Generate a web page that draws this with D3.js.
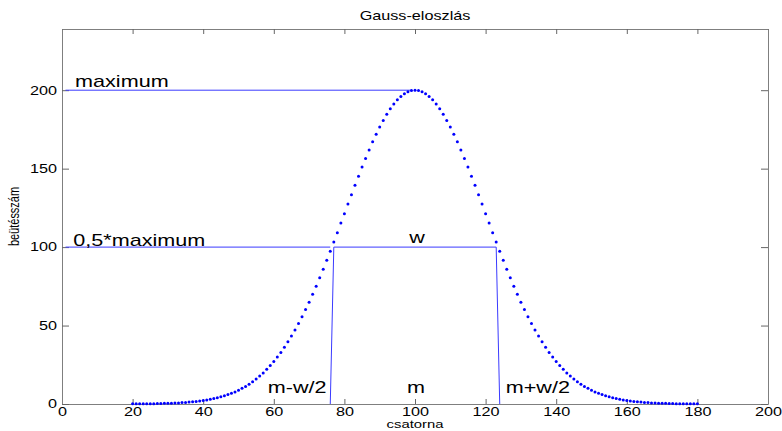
<!DOCTYPE html>
<html>
<head>
<meta charset="utf-8">
<script src="https://cdn.jsdelivr.net/npm/d3@7"></script>
<style>
  html, body { margin: 0; padding: 0; background: #fff; }
  svg { display: block; font-family: "Liberation Sans", Arial, sans-serif; }
</style>
</head>
<body>
<svg id="chart" width="782" height="431"></svg>
<script>
// Channel counts of the Gaussian peak, channels 20..180
const firstChannel = 20;
const counts = [
  0.1, 0.1, 0.1, 0.1, 0.1, 0.2, 0.2, 0.3, 0.3, 0.4,
  0.4, 0.5, 0.6, 0.7, 0.9, 1.0, 1.2, 1.4, 1.6, 1.9,
  2.2, 2.6, 3.0, 3.5, 4.0, 4.6, 5.2, 6.0, 6.8, 7.7,
  8.8, 10.0, 11.2, 12.6, 14.2, 15.9, 17.8, 19.8, 22.1, 24.5,
  27.1, 29.9, 32.9, 36.1, 39.6, 43.3, 47.2, 51.3, 55.6, 60.2,
  64.9, 69.9, 75.1, 80.4, 85.9, 91.6, 97.4, 103.2, 109.2, 115.3,
  121.3, 127.4, 133.4, 139.4, 145.2, 151.0, 156.5, 161.9, 167.1, 171.9,
  176.5, 180.7, 184.6, 188.1, 191.2, 193.9, 196.0, 197.8, 199.0, 199.8,
  200.0,
  199.8, 199.0, 197.8, 196.0, 193.9, 191.2, 188.1, 184.6, 180.7, 176.5,
  171.9, 167.1, 161.9, 156.5, 151.0, 145.2, 139.4, 133.4, 127.4, 121.3,
  115.3, 109.2, 103.2, 97.4, 91.6, 85.9, 80.4, 75.1, 69.9, 64.9,
  60.2, 55.6, 51.3, 47.2, 43.3, 39.6, 36.1, 32.9, 29.9, 27.1,
  24.5, 22.1, 19.8, 17.8, 15.9, 14.2, 12.6, 11.2, 10.0, 8.8,
  7.7, 6.8, 6.0, 5.2, 4.6, 4.0, 3.5, 3.0, 2.6, 2.2,
  1.9, 1.6, 1.4, 1.2, 1.0, 0.9, 0.7, 0.6, 0.5, 0.4,
  0.4, 0.3, 0.3, 0.2, 0.2, 0.1, 0.1, 0.1, 0.1, 0.1
];

// Guide lines: maximum level, half level, and the FWHM box
const maxLine = [[1, 200], [99, 200]];
const halfLine = [[1, 100], [76, 100]];
const widthBox = [[76, 0], [77, 100], [123, 100], [124, 0]];

// Axis ticks
const xTicks = [0, 20, 40, 60, 80, 100, 120, 140, 160, 180, 200];
const yTicks = [0, 50, 100, 150, 200];

// Annotations: [text, x, y, anchor]
const notes = [
  ["maximum", 3.7, 202, "start"],
  ["0,5*maximum", 3.2, 100.8, "start"],
  ["w", 100.6, 102.8, "middle"],
  ["m-w/2", 66.6, 6.8, "middle"],
  ["m", 100.3, 6.8, "middle"],
  ["m+w/2", 134.8, 6.8, "middle"]
];

const titleText = "Gauss-eloszlás";
const xLabel = "csatorna";
const yLabel = "beütésszám";

const stretch = 1.35;
const plot = { left: 62, right: 768, top: 29, bottom: 404 };

const svg = d3.select("#chart");
const x = d3.scaleLinear().domain([0, 200]).range([plot.left, plot.right]);
const y = d3.scaleLinear().domain([0, 239]).range([plot.bottom, plot.top]);

const axisColor = "#7f7f7f";

function styleAxis(g) {
  g.select(".domain").attr("stroke", axisColor);
  g.selectAll(".tick line").attr("stroke", "#666");
  g.selectAll(".tick text")
    .attr("fill", "#000")
    .style("font-size", "12px")
    .style("font-family", "'Liberation Sans', Arial, sans-serif")
    .each(function () {
      const w = this.getComputedTextLength();
      d3.select(this).attr("textLength", w * stretch).attr("lengthAdjust", "spacingAndGlyphs");
    });
}

// Box axes with inward ticks
svg.append("g")
  .attr("transform", `translate(0,${plot.bottom})`)
  .call(d3.axisBottom(x).tickValues(xTicks).tickSizeInner(-5).tickSizeOuter(0).tickPadding(3))
  .call(styleAxis);
svg.append("g")
  .attr("transform", `translate(0,${plot.top})`)
  .call(d3.axisTop(x).tickValues(xTicks).tickSizeInner(-5).tickSizeOuter(0).tickFormat(""))
  .call(styleAxis);
svg.append("g")
  .attr("transform", `translate(${plot.left},0)`)
  .call(d3.axisLeft(y).tickValues(yTicks).tickSizeInner(-7).tickSizeOuter(0).tickPadding(5))
  .call(styleAxis);
svg.append("g")
  .attr("transform", `translate(${plot.right},0)`)
  .call(d3.axisRight(y).tickValues(yTicks).tickSizeInner(-7).tickSizeOuter(0).tickFormat(""))
  .call(styleAxis);

// Guide lines
const line = d3.line().x(d => x(d[0])).y(d => y(d[1]));
[maxLine, halfLine, widthBox].forEach(pts => {
  svg.append("path")
    .attr("d", line(pts))
    .attr("fill", "none")
    .attr("stroke", "#3a3aff")
    .attr("stroke-width", 1);
});

// Data points
svg.append("g")
  .selectAll("circle")
  .data(counts)
  .join("circle")
  .attr("cx", (d, i) => x(firstChannel + i))
  .attr("cy", d => y(d))
  .attr("r", 1.5)
  .attr("fill", "#0000ff");

// Stretched text helper
function label(txt, px, py, size, anchor, extra) {
  return svg.append("text")
    .attr("transform", `translate(${px},${py}) scale(${stretch},1)` + (extra || ""))
    .attr("text-anchor", anchor)
    .style("font-size", size + "px")
    .attr("fill", "#000")
    .text(txt);
}

notes.forEach(([t, vx, vy, a]) => label(t, x(vx), y(vy), 16, a));

label(titleText, (plot.left + plot.right) / 2, 20, 12, "middle");
label(xLabel, (plot.left + plot.right) / 2, 428, 11, "middle");
label(yLabel, 18.5, (plot.top + plot.bottom) / 2, 11, "middle", " rotate(-90)");
</script>
</body>
</html>
